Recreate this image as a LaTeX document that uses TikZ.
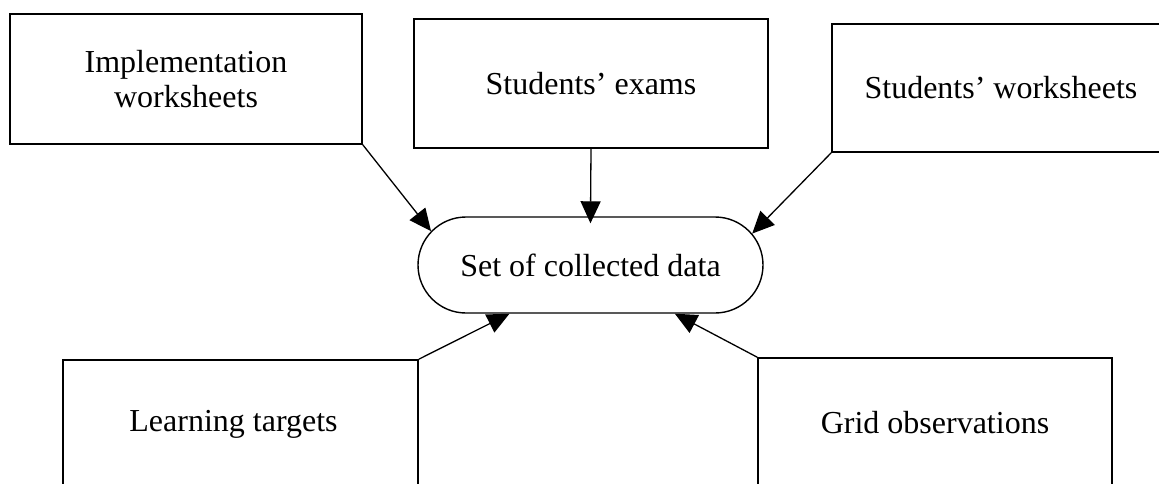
\documentclass[tikz,border=0pt]{standalone}
\usepackage{fontspec}
\setmainfont{Liberation Serif}
\usetikzlibrary{arrows.meta,shapes.misc}
\begin{document}
\begin{tikzpicture}[x=1pt,y=-1pt,
  box/.style={draw,line width=1.6pt,inner sep=0pt,align=center,
    font=\fontsize{32}{35}\selectfont},
  hub/.style={draw,line width=1.4pt,rounded rectangle,inner sep=0pt,
    minimum width=345pt,minimum height=96pt,font=\fontsize{32}{35}\selectfont},
  link/.style={line width=1.3pt,-{Triangle[length=22pt,width=20pt]}}]
\clip (0,0) rectangle (1159,483);
\fill[white] (0,0) rectangle (1159,483);
\node[box,minimum width=352pt,minimum height=130pt] (b1) at (186,79) {Implementation\\worksheets};
\node[box,minimum width=354pt,minimum height=129pt] (b2) at (591,83.5) {Students' exams};
\node[box,minimum width=338pt,minimum height=128pt] (b3) at (1001,88) {Students' worksheets};
\node[box,minimum width=355pt,minimum height=128pt] (b4) at (240.5,424) {Learning targets\hspace*{14pt}};
\node[box,minimum width=354pt,minimum height=130pt] (b5) at (935,423) {Grid observations};
\node[hub] (d) at (590.5,265) {Set of collected data};
\draw[link] (b1.south east) -- (d.168);
\draw[link,shorten >=-7pt] (b2.south) -- (d.north);
\draw[link] (b3.south west) -- (d.11.5);
\draw[link] (b4.north east) -- (d.211);
\draw[link] (b5.north west) -- (d.330);
\end{tikzpicture}
\end{document}
